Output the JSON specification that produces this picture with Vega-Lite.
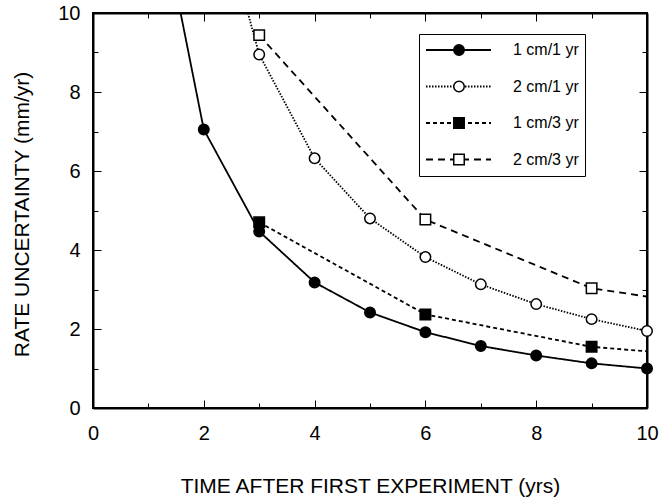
{
  "$schema": "https://vega.github.io/schema/vega-lite/v6.json",
  "width": 554,
  "height": 395,
  "autosize": {"type": "none"},
  "padding": {"left": 93, "top": 13, "right": 14, "bottom": 93},
  "background": "white",
  "config": {
    "font": "Liberation Sans",
    "view": {"stroke": "black", "strokeWidth": 2},
    "axis": {
      "grid": false,
      "domainColor": "black",
      "domainWidth": 2,
      "labelColor": "black",
      "titleColor": "black",
      "labelFontSize": 20,
      "titleFontSize": 21,
      "titleFontWeight": "normal",
      "labelFlush": false
    },
    "legend": {"labelColor": "black"}
  },
  "data": {
    "values": [
      {"series": "1 cm/1 yr", "t": 1, "rate": 14.1},
      {"series": "1 cm/1 yr", "t": 2, "rate": 7.05},
      {"series": "1 cm/1 yr", "t": 3, "rate": 4.47},
      {"series": "1 cm/1 yr", "t": 4, "rate": 3.18},
      {"series": "1 cm/1 yr", "t": 5, "rate": 2.42},
      {"series": "1 cm/1 yr", "t": 6, "rate": 1.92},
      {"series": "1 cm/1 yr", "t": 7, "rate": 1.57},
      {"series": "1 cm/1 yr", "t": 8, "rate": 1.33},
      {"series": "1 cm/1 yr", "t": 9, "rate": 1.13},
      {"series": "1 cm/1 yr", "t": 10, "rate": 1.0},
      {"series": "2 cm/1 yr", "t": 2, "rate": 14.1},
      {"series": "2 cm/1 yr", "t": 3, "rate": 8.95},
      {"series": "2 cm/1 yr", "t": 4, "rate": 6.32},
      {"series": "2 cm/1 yr", "t": 5, "rate": 4.8},
      {"series": "2 cm/1 yr", "t": 6, "rate": 3.82},
      {"series": "2 cm/1 yr", "t": 7, "rate": 3.13},
      {"series": "2 cm/1 yr", "t": 8, "rate": 2.63},
      {"series": "2 cm/1 yr", "t": 9, "rate": 2.25},
      {"series": "2 cm/1 yr", "t": 10, "rate": 1.95},
      {"series": "1 cm/3 yr", "t": 3, "rate": 4.7},
      {"series": "1 cm/3 yr", "t": 6, "rate": 2.37},
      {"series": "1 cm/3 yr", "t": 9, "rate": 1.55},
      {"series": "1 cm/3 yr", "t": 12, "rate": 1.2},
      {"series": "2 cm/3 yr", "t": 3, "rate": 9.44},
      {"series": "2 cm/3 yr", "t": 6, "rate": 4.77},
      {"series": "2 cm/3 yr", "t": 9, "rate": 3.03},
      {"series": "2 cm/3 yr", "t": 12, "rate": 2.4}
    ]
  },
  "resolve": {"axis": {"x": "independent", "y": "independent"}},
  "layer": [
    {
      "mark": {"type": "line", "clip": true, "color": "black", "strokeWidth": 1.8},
      "encoding": {
        "x": {
          "field": "t", "type": "quantitative",
          "scale": {"domain": [0, 10], "nice": false, "zero": false},
          "axis": {
            "orient": "bottom",
            "values": [0, 1, 2, 3, 4, 5, 6, 7, 8, 9, 10],
            "labelExpr": "datum.value % 2 === 0 ? datum.label : ''",
            "tickColor": "#000000",
            "tickSize": {"condition": {"test": "datum.value % 2 === 0", "value": -8}, "value": -5},
            "labelPadding": 23,
            "title": "TIME AFTER FIRST EXPERIMENT (yrs)",
            "titleY": 78,
            "titleBaseline": "middle"
          }
        },
        "y": {
          "field": "rate", "type": "quantitative",
          "scale": {"domain": [0, 10], "nice": false, "zero": false},
          "axis": {
            "orient": "left",
            "values": [0, 1, 2, 3, 4, 5, 6, 7, 8, 9, 10],
            "labelExpr": "datum.value % 2 === 0 ? datum.label : ''",
            "tickColor": "#000000",
            "tickSize": {"condition": {"test": "datum.value % 2 === 0", "value": -8}, "value": -5},
            "labelPadding": 21,
            "title": "RATE UNCERTAINTY (mm/yr)",
            "titleX": -71,
            "titleY": 201,
            "titleAngle": -90,
            "titleAlign": "center",
            "titleBaseline": "middle"
          }
        },
        "strokeDash": {
          "field": "series", "type": "nominal",
          "sort": ["1 cm/1 yr", "2 cm/1 yr", "1 cm/3 yr", "2 cm/3 yr"],
          "scale": {"range": [[1, 0], [1.5, 1.5], [4, 3], [7, 5]]},
          "legend": {
            "orient": "none",
            "legendX": 326,
            "legendY": 21,
            "title": null,
            "symbolType": "stroke",
            "symbolSize": 4225,
            "symbolStrokeWidth": 1.8,
            "symbolStrokeColor": "black",
            "clipHeight": 20,
            "rowPadding": 16.5,
            "padding": 6,
            "labelFontSize": 16,
            "labelOffset": 21,
            "strokeColor": "black",
            "fillColor": "white",
            "zindex": 0
          }
        }
      }
    },
    {
      "transform": [{"filter": "datum.t <= 10 && datum.rate <= 10"}],
      "mark": {"type": "point", "filled": true, "stroke": "black", "strokeWidth": 1.5, "size": 110, "opacity": 1},
      "encoding": {
        "x": {
          "field": "t", "type": "quantitative",
          "axis": {
            "orient": "top",
            "values": [0, 1, 2, 3, 4, 5, 6, 7, 8, 9, 10],
            "labels": false,
            "tickColor": "#000000",
            "tickSize": {"condition": {"test": "datum.value % 2 === 0", "value": -8}, "value": -5},
            "title": null
          }
        },
        "y": {
          "field": "rate", "type": "quantitative",
          "axis": {
            "orient": "right",
            "values": [0, 1, 2, 3, 4, 5, 6, 7, 8, 9, 10],
            "labels": false,
            "tickColor": "#000000",
            "tickSize": {"condition": {"test": "datum.value % 2 === 0", "value": -8}, "value": -5},
            "title": null
          }
        },
        "shape": {
          "field": "series", "type": "nominal",
          "scale": {"domain": ["1 cm/1 yr", "2 cm/1 yr", "1 cm/3 yr", "2 cm/3 yr"], "range": ["circle", "circle", "square", "square"]},
          "legend": {
            "orient": "none",
            "legendX": 326,
            "legendY": 21,
            "title": null,
            "symbolSize": 110,
            "symbolOffset": 26,
            "clipHeight": 20,
            "rowPadding": 16.5,
            "padding": 6,
            "labelFontSize": 16,
            "labelExpr": "''",
            "zindex": 1,
            "encode": {"symbols": {"update": {"stroke": {"value": "black"}, "strokeWidth": {"value": 1.5}}}}
          }
        },
        "fill": {
          "field": "series", "type": "nominal",
          "scale": {"domain": ["1 cm/1 yr", "2 cm/1 yr", "1 cm/3 yr", "2 cm/3 yr"], "range": ["black", "white", "black", "white"]},
          "legend": {
            "orient": "none",
            "legendX": 326,
            "legendY": 21,
            "title": null,
            "symbolSize": 110,
            "symbolOffset": 26,
            "clipHeight": 20,
            "rowPadding": 16.5,
            "padding": 6,
            "labelFontSize": 16,
            "labelExpr": "''",
            "zindex": 1,
            "encode": {"symbols": {"update": {"stroke": {"value": "black"}, "strokeWidth": {"value": 1.5}}}}
          }
        }
      }
    }
  ]
}
